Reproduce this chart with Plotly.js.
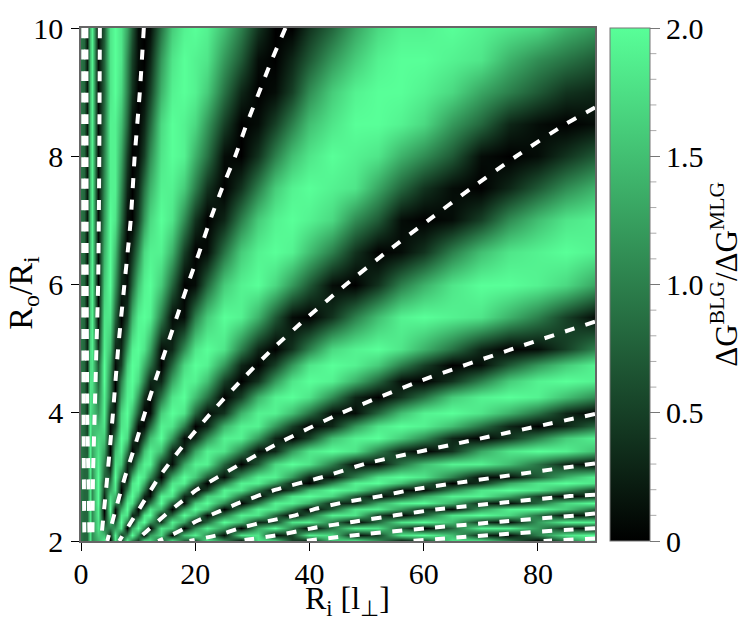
<!DOCTYPE html>
<html>
<head>
<meta charset="utf-8">
<script src="https://cdn.plot.ly/plotly-3.0.1.min.js"></script>
<style>body { margin: 0; background: #fff; }</style>
</head>
<body>
<div id="plot" style="width:747px;height:620px;"></div>
<script>
// grid nodes, finer where the stripes are thin
var ri = [0,.5,1,1.5,2,3,4,5,6,7,8,9,10,11,12,14,16,18,20,22,25,28,31,34,37,40,44,48,52,56,60,65,70,75,80,85,90];
var ratio = [2,2.1,2.2,2.3,2.4,2.5,2.6,2.7,2.8,2.9,3,3.2,3.4,3.6,3.8,4,4.25,4.5,4.75,5,5.5,6,6.5,7,7.5,8,8.5,9,9.5,10];

// values, one row per ratio, bottom row first
var gap = [
[.9,.8,.8,1.8,1.1,1.4,1.9,0,1.8,.4,2,.9,.4,1.9,1.8,.4,2,.7,.5,1.9,1.2,0,1.8,1.8,.5,.1,1.5,2,1.2,.1,.4,1.8,1.9,1,0,.8,1.8],
[.9,.8,.8,1.8,1.1,1.6,1.5,.3,1.9,.5,1,2,1.1,0,1.2,1.7,0,1.5,1.9,1.1,.1,1.8,1.8,.1,.5,1.9,1.7,.1,.5,1.8,2,1.5,.3,.1,1,1.8,2],
[.9,.8,.8,1.8,1.1,1.8,1,1,1.2,1.8,0,1.3,2,1.1,0,1.8,1.6,0,1.1,1.9,1.2,0,1.3,2,1,0,.9,1.9,1.8,.7,0,.8,1.9,1.9,1.2,.3,.1],
[.9,.8,.8,1.8,1.1,1.8,.4,1.4,.7,2,.9,.1,1.6,2,1.2,.4,1.9,1.3,0,.8,2,1.5,.3,.5,1.8,1.9,1,0,.8,1.8,2,1.5,.4,.1,1.2,1.9,1.9],
[.9,.8,.8,1.8,1.1,1.9,.1,1.8,0,1.8,1.8,.3,.4,1.8,2,.3,.8,2,1.4,.1,.9,1.9,1.8,.8,0,.8,1.9,1.8,.5,0,.7,1.8,2,1.7,.9,.1,.3],
[.9,.8,.8,1.8,1.1,1.9,0,2,.1,1.3,2,1.1,0,.8,1.8,1.4,0,1.2,2,1.5,0,1,1.9,1.8,1,0,.7,1.8,1.9,1.2,.4,.1,1.2,1.9,2,1.6,.8],
[.9,.8,.8,1.8,1.1,2,.1,1.9,1,.7,1.9,1.8,.7,0,.9,2,.7,.1,1.6,2,1.1,0,.9,1.9,1.9,1.4,.3,.3,1.3,1.9,2,1.4,.3,.1,.8,1.7,2],
[.9,.8,.8,1.8,1.1,2,.3,1.7,1.4,.1,1.5,2,1.4,.3,.1,1.9,1.8,.3,.4,1.6,1.9,.9,0,.9,1.8,2,1.7,.7,0,.5,1.3,1.9,1.9,1.3,.5,0,.4],
[.9,.8,.8,1.8,1.1,2,.5,1.3,1.8,0,1,1.9,1.8,.9,0,1.2,2,1.1,0,.5,1.9,1.8,.9,0,.5,1.5,2,1.8,1,.1,.1,1,1.8,2,1.8,1.2,.5],
[.9,.8,.8,1.8,1.1,2,.5,1,1.9,.3,.5,1.8,2,1.4,.5,.5,1.8,1.9,.9,0,.9,1.9,1.9,1.2,.3,0,1,1.9,2,1.5,.8,0,.4,1.3,1.8,2,1.8],
[.9,.8,.8,1.8,1.1,2,.8,.7,2,.8,.1,1.4,2,1.8,1.1,0,1.3,2,1.6,.7,.1,1.2,1.9,1.9,1.2,.3,.1,1,1.8,2,1.8,1,.1,.1,.7,1.4,1.9],
[.9,.8,.8,1.9,1.2,1.9,1,.1,1.8,1.6,.3,.4,1.4,1.9,1.9,.5,.1,1.3,1.9,1.9,.8,0,.7,1.7,2,1.8,1,.1,.1,.9,1.5,1.9,1.9,1.5,.9,.3,0],
[.9,.8,.7,1.9,1.3,1.8,1.3,0,1.5,1.9,1,0,.5,1.5,1.9,1.5,.3,.3,1.3,1.9,1.8,1,.1,.3,1.2,1.8,2,1.8,1,.3,0,.4,1.3,1.8,2,1.9,1.5],
[.9,.8,.6,1.9,1.4,1.7,1.6,.1,1,2,1.7,.5,0,.7,1.5,2,1.2,.1,.3,1.1,1.9,1.9,1.2,.3,0,.5,1.5,1.9,2,1.6,1.1,.3,0,.4,1,1.6,1.9],
[.9,.8,.5,1.9,1.5,1.5,1.8,.1,.5,1.8,1.9,1.1,.1,.1,.8,1.9,1.8,1,0,.3,1.4,1.9,1.9,1.2,.5,0,.3,1.2,1.8,2,1.9,1.5,.9,.3,0,.3,.8],
[.9,.8,.4,1.8,1.6,1.2,1.9,.4,.3,1.7,2,1.5,.7,0,.1,1.6,2,1.8,.8,.1,.4,1.4,1.9,1.9,1.5,.9,.1,.1,.8,1.5,1.9,2,1.8,1.4,.9,.3,0],
[.9,.8,.4,1.8,1.7,1,1.9,.9,0,1.3,1.9,1.9,1.2,.4,0,.9,1.8,2,1.5,.9,0,.5,1.4,1.9,2,1.8,1.1,.3,0,.4,.9,1.6,1.9,2,1.9,1.5,1.1],
[.9,.8,.3,1.8,1.8,.8,2,1,0,1,1.8,2,1.7,1,.3,.3,1.3,1.9,1.9,1.5,.5,0,.4,1.2,1.8,2,1.9,1.4,.8,.1,0,.4,1,1.6,1.9,2,1.9],
[.9,.8,.3,1.7,1.8,.7,2,1.2,.1,.5,1.6,2,1.9,1.4,.9,0,.8,1.7,2,1.9,1.2,.3,0,.5,1.2,1.8,2,1.9,1.6,1,.5,0,.1,.7,1.2,1.6,1.9],
[.9,.8,.3,1.7,1.9,.4,1.9,1.5,.3,.3,1.2,1.9,2,1.8,1.3,.1,.3,1.1,1.8,2,1.8,1,.3,0,.4,1,1.7,1.9,2,1.8,1.4,.9,.3,0,.1,.5,1],
[.9,.8,.2,1.6,1.9,.1,1.8,1.8,.8,0,.5,1.4,1.9,2,1.9,1,.1,.1,1,1.6,2,1.9,1.4,.7,.1,0,.4,1,1.5,1.9,2,1.9,1.8,1.4,1,.5,.1],
[.9,.8,.2,1.6,1.9,0,1.6,2,1.2,.3,.1,.8,1.5,1.9,2,1.6,.8,0,.1,.8,1.6,1.9,2,1.7,1.2,.7,.1,0,.4,1,1.4,1.8,2,2,1.9,1.7,1.3],
[.9,.8,.2,1.5,1.9,.1,1.4,2,1.5,.5,0,.4,1,1.7,1.9,1.9,1.4,.5,0,.1,.9,1.6,1.9,2,1.9,1.5,1,.4,0,.1,.4,1,1.5,1.8,1.9,2,1.9],
[.9,.8,.2,1.5,1.9,.1,1.2,2,1.8,.9,.1,0,.5,1.2,1.7,2,1.8,1.1,.4,0,.3,1,1.6,1.9,2,1.9,1.7,1.1,.7,.1,0,.1,.5,1.1,1.5,1.8,1.9],
[.9,.8,.2,1.5,1.9,.1,1.1,1.9,1.9,1.1,.3,0,.3,.9,1.4,1.9,1.9,1.6,1,.4,0,.4,1,1.6,1.9,2,1.9,1.8,1.3,.8,.4,.1,0,.3,.7,1.1,1.4],
[.9,.8,.2,1.5,1.9,.1,1,1.9,1.9,1.3,.5,0,.1,.5,1.1,1.8,2,1.9,1.4,.9,.1,0,.4,1,1.5,1.8,2,1.9,1.8,1.4,1.1,.7,.1,0,.1,.4,.7],
[.9,.8,.2,1.5,1.9,.1,.9,1.9,1.9,1.5,.8,.1,0,.3,.8,1.7,2,1.9,1.7,1.2,.5,0,.1,.5,1,1.5,1.8,2,2,1.9,1.7,1.2,.8,.3,.1,0,.1],
[.9,.8,.2,1.5,1.9,.1,.8,1.8,2,1.7,1,.4,0,.1,.5,1.4,1.9,2,1.9,1.6,.9,.3,0,.1,.5,1.1,1.6,1.9,2,2,1.9,1.7,1.3,1,.7,.4,.3],
[.9,.8,.2,1.5,1.9,.1,.8,1.8,2,1.8,1.1,.5,.1,0,.3,1.2,1.8,2,1.9,1.8,1.2,.7,.1,0,.3,.7,1.2,1.6,1.9,2,2,1.9,1.8,1.4,1.1,.9,.7],
[.9,.8,.2,1.5,1.9,.1,.7,1.8,2,1.8,1.3,.7,.1,0,.1,.9,1.6,1.9,2,1.9,1.5,1,.4,0,0,.4,.8,1.3,1.7,1.9,1.9,2,1.9,1.8,1.7,1.4,1.2]
];

// the dashed white curves, [ri values, ratio values]
var curveE = [[.4,.4,.45,.5,.6],[10,6,4,3,2]];
var curveD = [[.95,1,1.1,1.3,1.5],[10,6,4,3,2]];
var curveC = [[3.3,3.2,3,2.7,2.4,2.1,2],[10,8,6,5,4,3,2]];
var curveB = [[11,10.3,9.4,8.7,7.6,6.5,5.6,4.6,3.5],[10,9,8,7,6,5,4,3,2]];
var curveA = [[35.8,33.4,31.2,29,27,24.7,22.6,20.7,18.7,16.8,14.9,13,11.2,9.5,7.7,6.1,4.6],
              [10,9.5,9,8.5,8,7.5,7,6.5,6,5.5,5,4.5,4,3.5,3,2.5,2]];
var curve1 = [[90,84.8,76.2,68.3,60.8,53.4,46.4,39.8,33.6,28,22.8,18,13.7,10.2,6.7],
              [8.76,8.5,8,7.5,7,6.5,6,5.5,5,4.5,4,3.5,3,2.5,2]];
var curve2 = [[90,75.7,59.5,45.7,34,24,20.3,16,12.1,9.6],[5.42,5,4.5,4,3.5,3,2.8,2.5,2.2,2]];
var curve3 = [[90,64.8,50,42.4,34.1,27.8,25.2,20,18.2,16,13.5],[3.98,3.5,3.21,3,2.8,2.6,2.5,2.3,2.2,2.1,2]];
var curve4 = [[90,73.2,58,52.4,45.9,41,37.5,32.2,27.8,24.3,19],[3.21,3,2.8,2.7,2.6,2.5,2.4,2.3,2.2,2.1,2]];
var curve5 = [[90,85.6,74,62.9,55,47.8,40.5,35,27.5],[2.72,2.7,2.6,2.5,2.4,2.3,2.2,2.1,2]];
var curve6 = [[90,87,73.4,60.6,49,39],[2.43,2.4,2.3,2.2,2.1,2]];
var curve7 = [[90,88,72.8,57.8],[2.2,2.19,2.1,2]];
var curve8 = [[90,81],[2.04,2]];
var curves = [curveE,curveD,curveC,curveB,curveA,curve1,curve2,curve3,curve4,curve5,curve6,curve7,curve8];

var barMajor = [0,.5,1,1.5,2];
var barMajorText = ['0','0.5','1.0','1.5','2.0'];
var barMinor = [.1,.2,.3,.4,.6,.7,.8,.9,1.1,1.2,1.3,1.4,1.6,1.7,1.8,1.9];

var serif = 'Liberation Serif, Times New Roman, serif';

var data = [{
  type: 'heatmap',
  x: ri,
  y: ratio,
  z: gap,
  zmin: 0,
  zmax: 2,
  zsmooth: 'best',
  colorscale: [[0,'#000000'],[1,'#58ff98']],
  hoverinfo: 'skip',
  colorbar: {
    xref: 'container',
    x: 610/747,
    xanchor: 'left',
    xpad: 0,
    ypad: 0,
    y: 0,
    yanchor: 'bottom',
    len: 1,
    thickness: 40,
    outlinecolor: '#777',
    outlinewidth: 1,
    ticks: 'outside',
    ticklen: 10,
    tickcolor: '#777',
    tickvals: barMajor,
    ticktext: barMajorText,
    tickfont: {family: serif, size: 30, color: '#000'}
  }
}];

curves.forEach(function(c){
  data.push({
    type: 'scatter',
    mode: 'lines',
    x: c[0],
    y: c[1],
    showlegend: false,
    hoverinfo: 'skip',
    line: {color: '#fff', width: 4, dash: '10px,11.5px', shape: 'spline', smoothing: .6}
  });
});

var axisLine = {
  showgrid: false,
  zeroline: false,
  ticks: 'outside',
  ticklen: 8,
  tickcolor: '#000',
  linecolor: '#666',
  linewidth: 1.5,
  mirror: true,
  tickfont: {family: serif, size: 30, color: '#000'}
};

var layout = {
  width: 747,
  height: 620,
  margin: {l: 80.5, r: 151.5, t: 28, b: 79},
  paper_bgcolor: '#fff',
  plot_bgcolor: '#fff',
  showlegend: false,
  xaxis: Object.assign({}, axisLine, {
    range: [0,90],
    tickvals: [0,20,40,60,80],
    ticklabelstandoff: -3
  }),
  yaxis: Object.assign({}, axisLine, {
    range: [2,10],
    tickvals: [2,4,6,8,10],
    ticklabelstandoff: 2
  }),
  annotations: [{
    xref: 'paper', yref: 'paper',
    x: .519, y: -.116,
    xanchor: 'center', yanchor: 'middle',
    showarrow: false,
    text: 'R<sub>i</sub> [l<sub>⊥</sub>]',
    font: {family: serif, size: 32, color: '#000'}
  }, {
    xref: 'paper', yref: 'paper',
    x: -.112, y: .485,
    xanchor: 'center', yanchor: 'middle',
    textangle: -90,
    showarrow: false,
    text: 'R<sub>o</sub>/R<sub>i</sub>',
    font: {family: serif, size: 34, color: '#000'}
  }, {
    xref: 'paper', yref: 'paper',
    x: 1.252, y: .52,
    xanchor: 'center', yanchor: 'middle',
    textangle: -90,
    showarrow: false,
    text: 'ΔG<sup>BLG</sup>/ΔG<sup>MLG</sup>',
    font: {family: serif, size: 31, color: '#000'}
  }],
  // colorbar only takes one tick length, so the short ones go here
  shapes: barMinor.map(function(v){
    return {
      type: 'line', xref: 'paper', yref: 'paper',
      x0: (650-80.5)/515, x1: (657-80.5)/515,
      y0: v/2, y1: v/2,
      line: {color: '#aaa', width: 1}
    };
  })
};

Plotly.newPlot('plot', data, layout, {displayModeBar: false});
</script>
</body>
</html>
